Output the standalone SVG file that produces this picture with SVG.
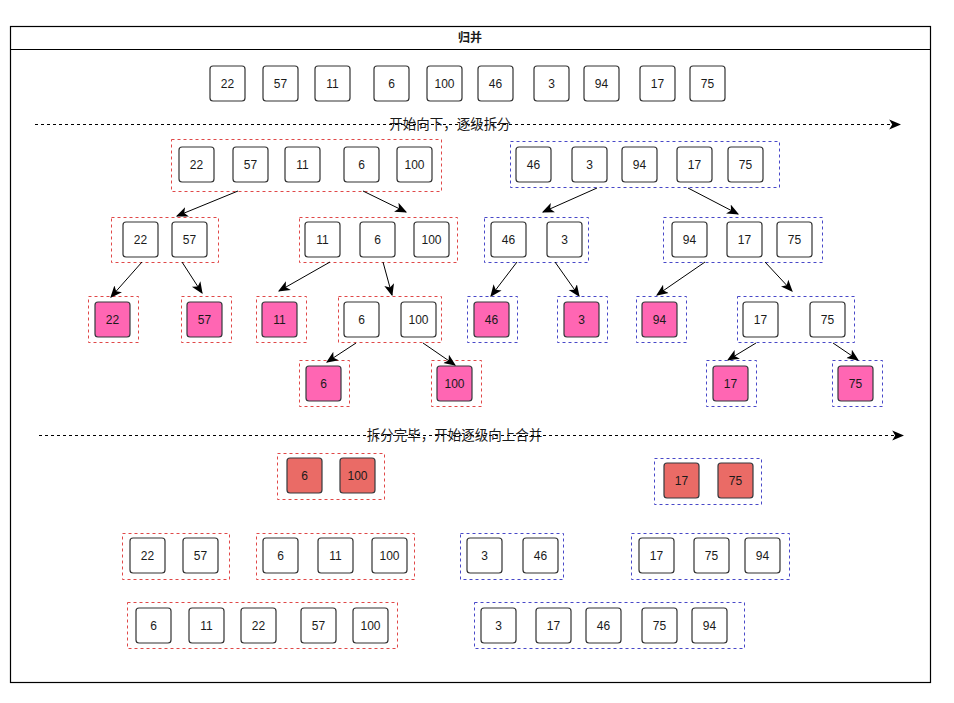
<svg xmlns="http://www.w3.org/2000/svg" width="954" height="703" viewBox="0 0 954 703">
<defs>
<marker id="arr" markerUnits="userSpaceOnUse" markerWidth="12" markerHeight="12" viewBox="0 0 10 10" refX="9" refY="5" orient="auto">
<path d="M0,0.8 L10,5 L0,9.2 L2.5,5 Z" fill="#000"/>
</marker>
<style>
text{font-family:"Liberation Sans","Noto Sans CJK SC",sans-serif;font-size:12px;text-anchor:middle;fill:#1a1a1a}
.lbl{font-size:13.5px}
.n rect{fill:#fff;stroke:#333;stroke-width:1.2}
.p rect{fill:#FF66B3;stroke:#36393d;stroke-width:1.2}
.m rect{fill:#EA6B66;stroke:#36393d;stroke-width:1.2}
.gr{fill:none;stroke:#E04848;stroke-width:1;stroke-dasharray:3 3}
.gb{fill:none;stroke:#4848C8;stroke-width:1;stroke-dasharray:3 3}
.c line{stroke:#000;stroke-width:1;marker-end:url(#arr)}
.c .d{stroke-dasharray:3 3}
</style>
</defs>
<rect width="954" height="703" fill="#fff"/>
<g id="container">
<rect x="10.5" y="26.5" width="920" height="656" fill="#fff" stroke="#000" stroke-width="1.2"/>
<line x1="10.5" y1="49.5" x2="930.5" y2="49.5" stroke="#000" stroke-width="1.2"/>
<text x="470" y="42" style="font-weight:bold">归并</text>
</g>

<!-- top row -->
<g id="top">
<g id="t22" class="n"><rect x="210" y="66" width="35" height="35" rx="3"/><text x="227.5" y="87.5">22</text></g>
<g id="t57" class="n"><rect x="263" y="66" width="35" height="35" rx="3"/><text x="280.5" y="87.5">57</text></g>
<g id="t11" class="n"><rect x="315" y="66" width="35" height="35" rx="3"/><text x="332.5" y="87.5">11</text></g>
<g id="t6" class="n"><rect x="374" y="66" width="35" height="35" rx="3"/><text x="391.5" y="87.5">6</text></g>
<g id="t100" class="n"><rect x="427" y="66" width="35" height="35" rx="3"/><text x="444.5" y="87.5">100</text></g>
<g id="t46" class="n"><rect x="478" y="66" width="35" height="35" rx="3"/><text x="495.5" y="87.5">46</text></g>
<g id="t3" class="n"><rect x="534" y="66" width="35" height="35" rx="3"/><text x="551.5" y="87.5">3</text></g>
<g id="t94" class="n"><rect x="584" y="66" width="35" height="35" rx="3"/><text x="601.5" y="87.5">94</text></g>
<g id="t17" class="n"><rect x="640" y="66" width="35" height="35" rx="3"/><text x="657.5" y="87.5">17</text></g>
<g id="t75" class="n"><rect x="690" y="66" width="35" height="35" rx="3"/><text x="707.5" y="87.5">75</text></g>
</g>

<!-- level 1 -->
<g id="l1red">
<rect class="gr" x="171.5" y="139.5" width="270" height="52"/>
<g class="n"><rect x="179" y="147" width="35" height="35" rx="3"/><text x="196.5" y="168.5">22</text></g>
<g class="n"><rect x="233" y="147" width="35" height="35" rx="3"/><text x="250.5" y="168.5">57</text></g>
<g class="n"><rect x="285" y="147" width="35" height="35" rx="3"/><text x="302.5" y="168.5">11</text></g>
<g class="n"><rect x="344" y="147" width="35" height="35" rx="3"/><text x="361.5" y="168.5">6</text></g>
<g class="n"><rect x="397" y="147" width="35" height="35" rx="3"/><text x="414.5" y="168.5">100</text></g>
</g>
<g id="l1blue">
<rect class="gb" x="510.5" y="141.5" width="269" height="46"/>
<g class="n"><rect x="516" y="147" width="35" height="35" rx="3"/><text x="533.5" y="168.5">46</text></g>
<g class="n"><rect x="572" y="147" width="35" height="35" rx="3"/><text x="589.5" y="168.5">3</text></g>
<g class="n"><rect x="622" y="147" width="35" height="35" rx="3"/><text x="639.5" y="168.5">94</text></g>
<g class="n"><rect x="677" y="147" width="35" height="35" rx="3"/><text x="694.5" y="168.5">17</text></g>
<g class="n"><rect x="728" y="147" width="35" height="35" rx="3"/><text x="745.5" y="168.5">75</text></g>
</g>

<!-- level 2 -->
<g id="l2redA">
<rect class="gr" x="111.5" y="217.5" width="107" height="45"/>
<g class="n"><rect x="123" y="222" width="35" height="35" rx="3"/><text x="140.5" y="243.5">22</text></g>
<g class="n"><rect x="172" y="222" width="35" height="35" rx="3"/><text x="189.5" y="243.5">57</text></g>
</g>
<g id="l2redB">
<rect class="gr" x="299.5" y="217.5" width="158" height="45"/>
<g class="n"><rect x="305" y="222" width="35" height="35" rx="3"/><text x="322.5" y="243.5">11</text></g>
<g class="n"><rect x="360" y="222" width="35" height="35" rx="3"/><text x="377.5" y="243.5">6</text></g>
<g class="n"><rect x="414" y="222" width="35" height="35" rx="3"/><text x="431.5" y="243.5">100</text></g>
</g>
<g id="l2blueA">
<rect class="gb" x="484.5" y="217.5" width="104" height="45"/>
<g class="n"><rect x="491" y="222" width="35" height="35" rx="3"/><text x="508.5" y="243.5">46</text></g>
<g class="n"><rect x="547" y="222" width="35" height="35" rx="3"/><text x="564.5" y="243.5">3</text></g>
</g>
<g id="l2blueB">
<rect class="gb" x="663.5" y="217.5" width="159" height="45"/>
<g class="n"><rect x="672" y="222" width="35" height="35" rx="3"/><text x="689.5" y="243.5">94</text></g>
<g class="n"><rect x="727" y="222" width="35" height="35" rx="3"/><text x="744.5" y="243.5">17</text></g>
<g class="n"><rect x="777" y="222" width="35" height="35" rx="3"/><text x="794.5" y="243.5">75</text></g>
</g>

<!-- level 3 -->
<g id="l3_22"><rect class="gr" x="88.5" y="296.5" width="50" height="46"/><g class="p"><rect x="95" y="302" width="35" height="35" rx="3"/><text x="112.5" y="323.5">22</text></g></g>
<g id="l3_57"><rect class="gr" x="181.5" y="296.5" width="50" height="46"/><g class="p"><rect x="187" y="302" width="35" height="35" rx="3"/><text x="204.5" y="323.5">57</text></g></g>
<g id="l3_11"><rect class="gr" x="256.5" y="296.5" width="50" height="46"/><g class="p"><rect x="262" y="302" width="35" height="35" rx="3"/><text x="279.5" y="323.5">11</text></g></g>
<g id="l3_6_100">
<rect class="gr" x="338.5" y="296.5" width="103" height="46"/>
<g class="n"><rect x="344" y="302" width="35" height="35" rx="3"/><text x="361.5" y="323.5">6</text></g>
<g class="n"><rect x="401" y="302" width="35" height="35" rx="3"/><text x="418.5" y="323.5">100</text></g>
</g>
<g id="l3_46"><rect class="gb" x="467.5" y="296.5" width="50" height="46"/><g class="p"><rect x="474" y="302" width="35" height="35" rx="3"/><text x="491.5" y="323.5">46</text></g></g>
<g id="l3_3"><rect class="gb" x="557.5" y="296.5" width="50" height="46"/><g class="p"><rect x="564" y="302" width="35" height="35" rx="3"/><text x="581.5" y="323.5">3</text></g></g>
<g id="l3_94"><rect class="gb" x="636.5" y="296.5" width="50" height="46"/><g class="p"><rect x="642" y="302" width="35" height="35" rx="3"/><text x="659.5" y="323.5">94</text></g></g>
<g id="l3_17_75">
<rect class="gb" x="737.5" y="296.5" width="117" height="46"/>
<g class="n"><rect x="743" y="302" width="35" height="35" rx="3"/><text x="760.5" y="323.5">17</text></g>
<g class="n"><rect x="810" y="302" width="35" height="35" rx="3"/><text x="827.5" y="323.5">75</text></g>
</g>

<!-- level 4 -->
<g id="l4_6"><rect class="gr" x="299.5" y="360.5" width="50" height="46"/><g class="p"><rect x="306" y="366" width="35" height="35" rx="3"/><text x="323.5" y="387.5">6</text></g></g>
<g id="l4_100"><rect class="gr" x="431.5" y="360.5" width="50" height="46"/><g class="p"><rect x="437" y="366" width="35" height="35" rx="3"/><text x="454.5" y="387.5">100</text></g></g>
<g id="l4_17"><rect class="gb" x="706.5" y="360.5" width="50" height="46"/><g class="p"><rect x="713" y="366" width="35" height="35" rx="3"/><text x="730.5" y="387.5">17</text></g></g>
<g id="l4_75"><rect class="gb" x="832.5" y="360.5" width="50" height="46"/><g class="p"><rect x="838" y="366" width="35" height="35" rx="3"/><text x="855.5" y="387.5">75</text></g></g>

<!-- merge -->
<g id="m_6_100">
<rect class="gr" x="277.5" y="453.5" width="107" height="46"/>
<g class="m"><rect x="287" y="458" width="35" height="35" rx="3"/><text x="304.5" y="479.5">6</text></g>
<g class="m"><rect x="340" y="458" width="35" height="35" rx="3"/><text x="357.5" y="479.5">100</text></g>
</g>
<g id="m_17_75">
<rect class="gb" x="654.5" y="458.5" width="107" height="46"/>
<g class="m"><rect x="664" y="463" width="35" height="35" rx="3"/><text x="681.5" y="484.5">17</text></g>
<g class="m"><rect x="718" y="463" width="35" height="35" rx="3"/><text x="735.5" y="484.5">75</text></g>
</g>
<g id="m_22_57">
<rect class="gr" x="122.5" y="533.5" width="107" height="46"/>
<g class="n"><rect x="130" y="538" width="35" height="35" rx="3"/><text x="147.5" y="559.5">22</text></g>
<g class="n"><rect x="183" y="538" width="35" height="35" rx="3"/><text x="200.5" y="559.5">57</text></g>
</g>
<g id="m_6_11_100">
<rect class="gr" x="256.5" y="533.5" width="158" height="46"/>
<g class="n"><rect x="263" y="538" width="35" height="35" rx="3"/><text x="280.5" y="559.5">6</text></g>
<g class="n"><rect x="318" y="538" width="35" height="35" rx="3"/><text x="335.5" y="559.5">11</text></g>
<g class="n"><rect x="372" y="538" width="35" height="35" rx="3"/><text x="389.5" y="559.5">100</text></g>
</g>
<g id="m_3_46">
<rect class="gb" x="460.5" y="533.5" width="103" height="46"/>
<g class="n"><rect x="467" y="538" width="35" height="35" rx="3"/><text x="484.5" y="559.5">3</text></g>
<g class="n"><rect x="523" y="538" width="35" height="35" rx="3"/><text x="540.5" y="559.5">46</text></g>
</g>
<g id="m_17_75_94">
<rect class="gb" x="631.5" y="533.5" width="158" height="46"/>
<g class="n"><rect x="639" y="538" width="35" height="35" rx="3"/><text x="656.5" y="559.5">17</text></g>
<g class="n"><rect x="694" y="538" width="35" height="35" rx="3"/><text x="711.5" y="559.5">75</text></g>
<g class="n"><rect x="745" y="538" width="35" height="35" rx="3"/><text x="762.5" y="559.5">94</text></g>
</g>
<g id="m_red_final">
<rect class="gr" x="127.5" y="602.5" width="270" height="46"/>
<g class="n"><rect x="136" y="608" width="35" height="35" rx="3"/><text x="153.5" y="629.5">6</text></g>
<g class="n"><rect x="189" y="608" width="35" height="35" rx="3"/><text x="206.5" y="629.5">11</text></g>
<g class="n"><rect x="241" y="608" width="35" height="35" rx="3"/><text x="258.5" y="629.5">22</text></g>
<g class="n"><rect x="301" y="608" width="35" height="35" rx="3"/><text x="318.5" y="629.5">57</text></g>
<g class="n"><rect x="353" y="608" width="35" height="35" rx="3"/><text x="370.5" y="629.5">100</text></g>
</g>
<g id="m_blue_final">
<rect class="gb" x="474.5" y="602.5" width="270" height="46"/>
<g class="n"><rect x="481" y="608" width="35" height="35" rx="3"/><text x="498.5" y="629.5">3</text></g>
<g class="n"><rect x="536" y="608" width="35" height="35" rx="3"/><text x="553.5" y="629.5">17</text></g>
<g class="n"><rect x="586" y="608" width="35" height="35" rx="3"/><text x="603.5" y="629.5">46</text></g>
<g class="n"><rect x="642" y="608" width="35" height="35" rx="3"/><text x="659.5" y="629.5">75</text></g>
<g class="n"><rect x="692" y="608" width="35" height="35" rx="3"/><text x="709.5" y="629.5">94</text></g>
</g>

<!-- connectors -->
<g id="connectors" class="c">
<line class="d" x1="35" y1="124.5" x2="900" y2="124.5"/>
<line class="d" x1="39" y1="435.5" x2="903" y2="435.5"/>
<line x1="238" y1="191" x2="177" y2="216"/>
<line x1="363" y1="191" x2="406" y2="212"/>
<line x1="597" y1="188" x2="543" y2="212"/>
<line x1="688" y1="188" x2="738" y2="214"/>
<line x1="142" y1="262" x2="111" y2="297"/>
<line x1="182" y1="262" x2="202" y2="293"/>
<line x1="330" y1="262" x2="279" y2="291"/>
<line x1="383" y1="262" x2="392" y2="295"/>
<line x1="356" y1="343" x2="327" y2="362"/>
<line x1="423" y1="343" x2="455" y2="365"/>
<line x1="517" y1="262" x2="491" y2="296"/>
<line x1="555" y1="262" x2="579" y2="296"/>
<line x1="705" y1="262" x2="657" y2="295"/>
<line x1="765" y1="262" x2="792" y2="291"/>
<line x1="756" y1="343" x2="728" y2="360"/>
<line x1="833" y1="343" x2="858" y2="360"/>
</g>
<g id="labels">
<text class="lbl" x="450" y="129">开始向下，逐级拆分</text>
<text class="lbl" x="454.5" y="440">拆分完毕，开始逐级向上合并</text>
</g>
</svg>
